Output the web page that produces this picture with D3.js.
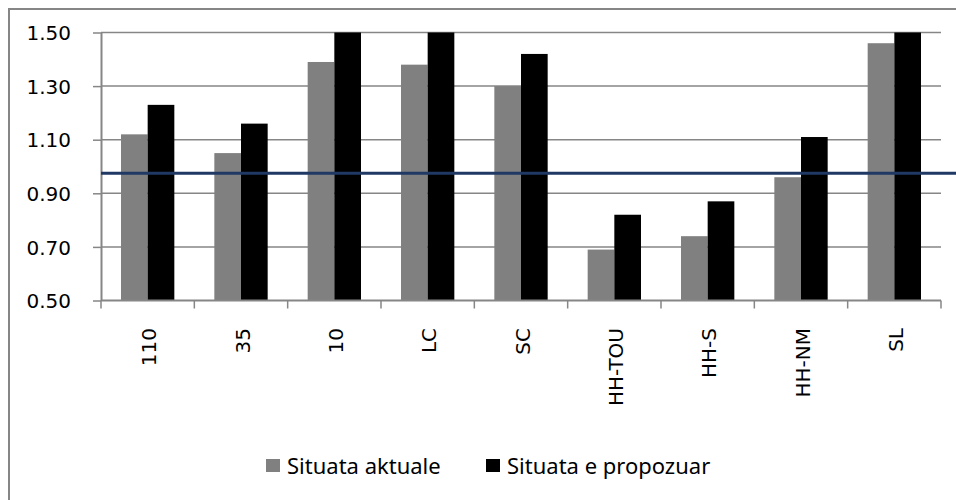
<!DOCTYPE html>
<html>
<head>
<meta charset="utf-8">
<script src="https://cdn.jsdelivr.net/npm/d3@7"></script>
<style>
  body { margin: 0; background: #fff; }
</style>
</head>
<body>
<div id="graph-container"></div>
<script>
// Data
const categories = ["110", "35", "10", "LC", "SC", "HH-TOU", "HH-S", "HH-NM", "SL"];
const seriesNames = ["Situata aktuale", "Situata e propozuar"];
const aktuale = [1.12, 1.05, 1.39, 1.38, 1.30, 0.69, 0.74, 0.96, 1.46];
const propozuar = [1.23, 1.16, 1.50, 1.50, 1.42, 0.82, 0.87, 1.11, 1.50];
const yTicks = [0.50, 0.70, 0.90, 1.10, 1.30, 1.50];
const threshold = 0.975;
const colors = ["#808080", "#000000"];

const width = 956;
const height = 500;
const marginTop = 32.5;
const marginRight = 15;
const marginBottom = 199.5;
const marginLeft = 101;
const axisColor = "#868686";

const rows = categories.map((c, i) => ({category: c, values: [aktuale[i], propozuar[i]]}));

// Create the SVG container.
const svg = d3.select("#graph-container").append("svg")
    .attr("width", width)
    .attr("height", height)
    .attr("viewBox", [0, 0, width, height]);

// Outer chart border (runs off the right and bottom edges).
svg.append("rect")
    .attr("x", 9)
    .attr("y", 9)
    .attr("width", 1000)
    .attr("height", 1000)
    .attr("fill", "none")
    .attr("stroke", axisColor)
    .attr("stroke-width", 2);

// Scales
const x0 = d3.scaleBand()
    .domain(categories)
    .range([marginLeft, width - marginRight]);

const x1 = d3.scaleBand()
    .domain(seriesNames)
    .range([0, x0.bandwidth()])
    .paddingOuter(0.75);

const y = d3.scaleLinear()
    .domain([0.5, 1.5])
    .range([height - marginBottom, marginTop]);

// Grid
svg.append("g")
    .attr("stroke", axisColor)
    .attr("stroke-width", 1.5)
    .selectAll("line")
    .data(yTicks.slice(1))
    .join("line")
    .attr("x1", marginLeft)
    .attr("x2", width - marginRight)
    .attr("y1", d => y(d))
    .attr("y2", d => y(d));

// Bars
svg.append("g")
    .selectAll("g")
    .data(rows)
    .join("g")
    .attr("transform", d => `translate(${x0(d.category)},0)`)
    .selectAll("rect")
    .data(d => d.values.map((v, i) => ({key: seriesNames[i], value: v, i})))
    .join("rect")
    .attr("x", d => x1(d.key))
    .attr("width", x1.bandwidth())
    .attr("y", d => y(d.value))
    .attr("height", d => y(0.5) - y(d.value))
    .attr("fill", d => colors[d.i]);

// Y axis
svg.append("g")
    .attr("transform", `translate(${marginLeft},0)`)
    .call(d3.axisLeft(y).tickValues(yTicks).tickFormat(d3.format(".2f"))
        .tickSize(8).tickSizeOuter(0).tickPadding(22))
    .call(g => g.select(".domain").attr("stroke", axisColor).attr("stroke-width", 2))
    .call(g => g.selectAll(".tick line").attr("stroke", axisColor).attr("stroke-width", 1.5))
    .call(g => g.selectAll("text")
        .attr("fill", "#000")
        .attr("font-family", "DejaVu Sans")
        .attr("font-size", 20)
        .attr("dy", "0.36em"));

// X axis: baseline, boundary ticks and rotated labels
const xAxis = svg.append("g");
xAxis.append("line")
    .attr("x1", marginLeft)
    .attr("x2", width - marginRight)
    .attr("y1", y(0.5))
    .attr("y2", y(0.5))
    .attr("stroke", axisColor)
    .attr("stroke-width", 2);

xAxis.append("g")
    .selectAll("line")
    .data(d3.range(categories.length + 1))
    .join("line")
    .attr("x1", i => marginLeft + i * x0.step())
    .attr("x2", i => marginLeft + i * x0.step())
    .attr("y1", y(0.5))
    .attr("y2", y(0.5) + 8)
    .attr("stroke", axisColor)
    .attr("stroke-width", 1.5);

xAxis.append("g")
    .attr("font-family", "DejaVu Sans")
    .attr("font-size", 20)
    .selectAll("text")
    .data(categories)
    .join("text")
    .attr("transform", d => `translate(${x0(d) + x0.bandwidth() / 2},328) rotate(-90)`)
    .attr("text-anchor", "end")
    .attr("y", 8.5)
    .attr("fill", "#000")
    .text(d => d);

// Reference line
svg.append("line")
    .attr("x1", marginLeft)
    .attr("x2", width)
    .attr("y1", y(threshold))
    .attr("y2", y(threshold))
    .attr("stroke", "#1F3864")
    .attr("stroke-width", 3);

// Legend
const legend = svg.append("g")
    .attr("font-family", "Noto Sans")
    .attr("font-size", 22)
    .selectAll("g")
    .data(seriesNames)
    .join("g")
    .attr("transform", (d, i) => `translate(${266 + i * 220},459)`);

legend.append("rect")
    .attr("width", 14)
    .attr("height", 13)
    .attr("fill", (d, i) => colors[i]);

legend.append("text")
    .attr("x", 21)
    .attr("y", 15)
    .attr("fill", "#000")
    .text(d => d);
</script>
</body>
</html>
